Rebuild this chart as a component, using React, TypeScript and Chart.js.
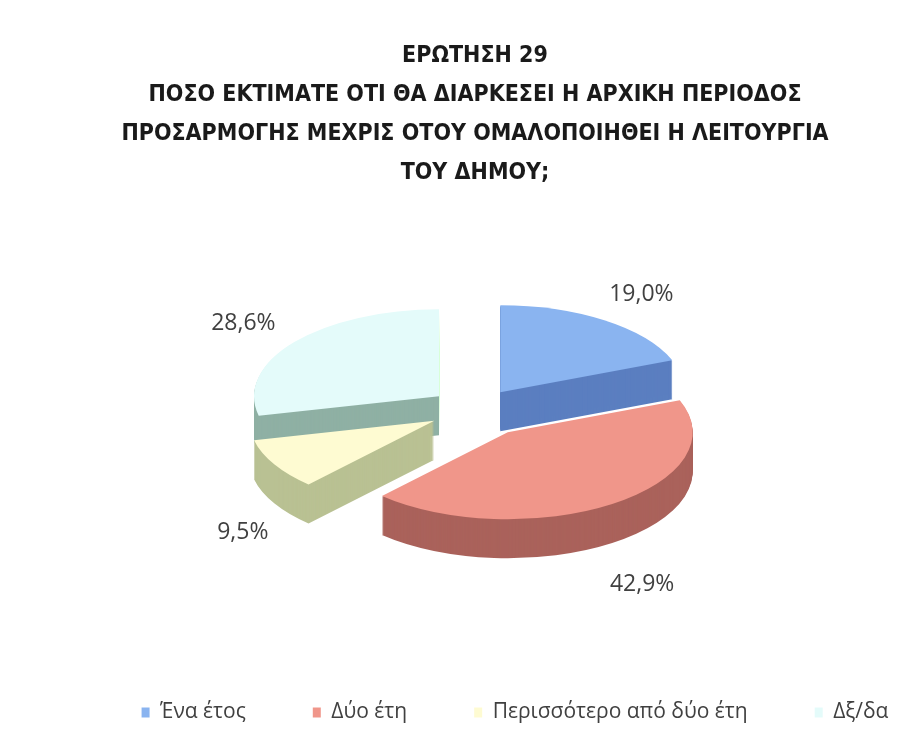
import React, { useEffect, useRef } from 'react';
import { Chart, registerables } from 'chart.js';

Chart.register(...registerables);

const categories = ['Ένα έτος', 'Δύο έτη', 'Περισσότερο από δύο έτη', 'Δξ/δα'];
const values = [19.0, 42.9, 9.5, 28.6];
const topColors = ['#8ab4f0', '#f0968a', '#fefbd2', '#e4fbfa'];
const sideColors = ['#5b7fc0', '#aa625b', '#b9c193', '#8fb0a4'];
const explode = [45, 58, 47, 46];
const labelRadius = [1.6, 1.6, 1.45, 1.6];
const titleLines = [
  'ΕΡΩΤΗΣΗ 29',
  'ΠΟΣΟ ΕΚΤΙΜΑΤΕ ΟΤΙ ΘΑ ΔΙΑΡΚΕΣΕΙ Η ΑΡΧΙΚΗ ΠΕΡΙΟΔΟΣ',
  'ΠΡΟΣΑΡΜΟΓΗΣ ΜΕΧΡΙΣ ΟΤΟΥ ΟΜΑΛΟΠΟΙΗΘΕΙ Η ΛΕΙΤΟΥΡΓΙΑ',
  'ΤΟΥ ΔΗΜΟΥ;',
];

const TILT = 0.47;
const DEPTH = 39;
const LABEL_DROP = 21;

const fmt = (v: number) => v.toFixed(1).replace('.', ',') + '%';
const mid = (a: any) => (a.startAngle + a.endAngle) / 2;

function drawSlice(ctx: any, arc: any, i: number, cy: number, dy: number, color: string) {
  const m = mid(arc);
  const saved = arc.options;
  arc.options = { ...saved, backgroundColor: color, borderColor: color, borderWidth: 0, offset: 0 };
  ctx.save();
  ctx.translate(0, cy + dy);
  ctx.scale(1, TILT);
  ctx.translate(0, -cy);
  ctx.translate(Math.cos(m) * explode[i], Math.sin(m) * explode[i]);
  arc.draw(ctx);
  ctx.restore();
  arc.options = saved;
}

const pie3d = {
  id: 'pie3d',
  beforeDatasetsDraw(chart: any) {
    const arcs = chart.getDatasetMeta(0).data;
    const ctx = chart.ctx;
    const cy = arcs[0].y;
    const order = arcs.map((_: any, i: number) => i).sort(
      (i: number, j: number) => Math.sin(mid(arcs[i])) - Math.sin(mid(arcs[j]))
    );
    for (const i of order) {
      for (let d = DEPTH; d >= 1; d--) drawSlice(ctx, arcs[i], i, cy, d, sideColors[i]);
    }
    arcs.forEach((arc: any, i: number) => drawSlice(ctx, arc, i, cy, 0, topColors[i]));
    return false;
  },
  afterDraw(chart: any) {
    const ctx = chart.ctx;
    const arcs = chart.getDatasetMeta(0).data;
    const data = chart.data.datasets[0].data;
    ctx.save();
    ctx.font = '23px "Open Sans"';
    ctx.fillStyle = '#404040';
    ctx.textAlign = 'center';
    ctx.textBaseline = 'middle';
    arcs.forEach((arc: any, i: number) => {
      const m = mid(arc);
      const R = arc.outerRadius * labelRadius[i];
      const x = arc.x + Math.cos(m) * R;
      let y = arc.y + Math.sin(m) * R * TILT;
      if (Math.sin(m) > 0) y += DEPTH + LABEL_DROP;
      ctx.fillText(fmt(data[i]), x, y);
    });
    ctx.restore();
  },
};

export default function App() {
  const ref = useRef<HTMLCanvasElement>(null);
  useEffect(() => {
    if (!ref.current) return;
    const chart = new Chart(ref.current, {
      type: 'pie',
      data: {
        labels: categories,
        datasets: [
          {
            data: values,
            backgroundColor: topColors,
            borderWidth: 0,
          } as any,
        ],
      },
      options: {
        responsive: false,
        animation: false,
        events: [],
        radius: 185,
        layout: { padding: { left: 37, right: -80, top: 0, bottom: -4 } },
        plugins: {
          tooltip: { enabled: false },
          title: {
            display: true,
            fullSize: false,
            text: titleLines,
            color: '#1a1a1a',
            font: {
              family: "'Liberation Sans Narrow', 'DejaVu Sans Condensed', 'Noto Sans'",
              size: 23,
              weight: 'bold',
              lineHeight: 1.7,
            },
            padding: { top: 36, bottom: -8 },
          },
          subtitle: {
            display: true,
            position: 'right',
            text: ' ',
            font: { size: 10, lineHeight: 1 },
            padding: { top: 26, bottom: 26 },
          },
          legend: {
            position: 'bottom',
            labels: {
              color: '#404040',
              font: { family: "'Open Sans'", size: 21 },
              boxWidth: 8,
              boxHeight: 10,
              padding: 67,
            },
          },
        },
      } as any,
      plugins: [pie3d],
    });
    return () => chart.destroy();
  }, []);
  return (
    <div style={{ position: 'absolute', left: 0, top: 0, width: 913, height: 729, background: '#ffffff' }}>
      <canvas ref={ref} width={913} height={729} style={{ display: 'block' }} />
    </div>
  );
}
